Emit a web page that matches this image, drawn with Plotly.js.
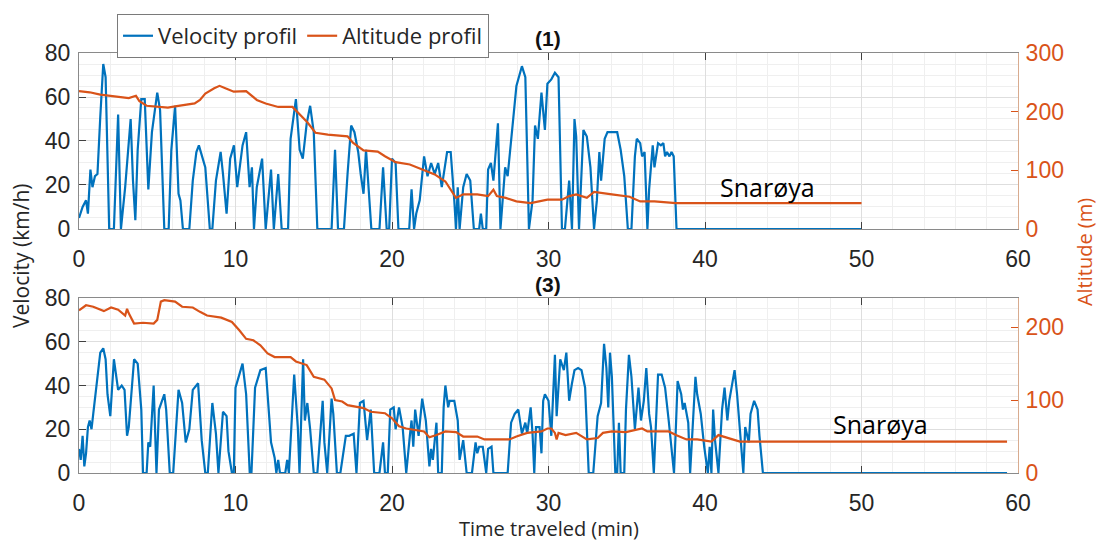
<!DOCTYPE html>
<html>
<head>
<meta charset="utf-8">
<script src="https://cdn.plot.ly/plotly-3.0.1.min.js"></script>
<style>
html,body{margin:0;padding:0;background:#fff;}
#chart{width:1098px;height:541px;}
</style>
</head>
<body>
<div id="chart"></div>
<script>
// ---------- Data ----------
// Plot (1): velocity profile
const topVelT = [0,0.23,0.45,0.57,0.73,0.86,1.02,1.18,1.36,1.55,1.7,1.93,2.23,2.5,2.68,2.95,3.3,3.45,3.6,3.75,3.98,4.2,4.43,4.66,5.0,5.18,5.45,5.73,5.9,6.14,6.36,6.48,6.64,7.05,7.27,7.5,7.66,7.84,8.07,8.36,8.52,8.75,9.05,9.2,9.43,9.66,9.9,10.11,10.45,10.68,10.9,11.05,11.18,11.36,11.7,11.93,12.1,12.27,12.45,12.73,12.95,13.36,13.52,13.86,14.1,14.3,14.55,14.77,15.0,15.23,16.14,16.36,16.55,16.93,17.16,17.39,17.6,17.84,18.0,18.18,18.34,18.52,18.68,19.2,19.43,19.66,19.82,20.0,20.23,20.41,21.1,21.25,21.41,21.55,21.77,22.05,22.27,22.5,22.73,22.95,23.18,23.52,23.75,23.98,24.09,24.2,24.32,24.55,24.77,25.0,25.23,25.57,25.68,25.8,26.02,26.14,26.32,26.48,26.59,26.77,26.93,27.09,27.23,27.39,27.73,27.95,28.3,28.52,28.75,28.98,29.14,29.32,29.55,29.77,29.93,30.18,30.41,30.64,30.86,31.05,31.32,31.5,31.66,31.77,31.95,32.07,32.23,32.45,32.68,32.91,33.09,33.25,33.36,33.59,33.77,34.05,34.39,34.61,34.84,35.07,35.3,35.52,35.64,35.86,35.98,36.14,36.32,36.43,36.66,36.77,37.0,37.18,37.34,37.45,37.57,37.73,37.86,38.0,38.09,38.18,50];
const topVelV = [5,10,13,7,27,19,24,25,51,75,69,0,0,52,0,19,50,22,4,36,59,59,18,44,62,54,0,0,36,56,16,13,0,0,22,35,38,34,28,0,0,22,35,25,7,32,38,19,38,44,19,28,0,19,32,0,13,27,0,25,0,0,41,59,36,32,48,56,44,0,0,36,0,0,25,47,44,35,25,16,36,19,0,0,28,0,0,32,30,0,0,18,0,7,13,33,24,30,25,30,19,35,35,13,0,19,0,19,25,22,0,0,7,0,0,27,30,22,33,48,0,13,28,24,51,65,74,69,0,13,47,41,62,45,66,68,71,69,0,0,22,0,50,42,0,19,45,42,28,0,13,35,22,41,44,44,44,36,24,0,0,33,41,39,33,35,0,18,38,28,39,38,39,33,35,33,35,33,19,0,0];
// Plot (1): altitude profile
const topAltT = [0,0.68,1.36,2.27,3.18,3.64,3.86,4.32,5.0,5.68,6.14,6.82,7.39,7.73,8.07,8.64,8.98,9.43,9.89,10.68,11.36,11.93,12.73,13.64,14.09,14.59,15.11,15.9,17.16,17.5,18.18,19.09,19.55,20.23,21.14,22.05,22.73,23.41,23.75,24.09,24.55,25.45,26.14,26.48,26.7,27.27,27.95,28.86,29.93,30.86,31.32,31.77,32.45,32.91,34.05,35.18,35.86,36.77,38.14,50];
const topAltA = [235,233,229,226,223,227,218,210,208,207,209,212,214,220,231,240,244,239,234,235,220,214,208,208,195,182,164,161,158,147,134,132,124,114,110,101,93,81,67,53,59,59,56,67,56,53,47,44,50,50,56,59,53,63,59,55,47,47,44,44];
// Plot (3): velocity profile
const botVelT = [0,0.11,0.23,0.34,0.45,0.57,0.68,0.8,0.91,1.14,1.36,1.55,1.7,1.82,2.0,2.23,2.32,2.5,2.73,2.91,3.07,3.18,3.52,3.75,3.98,4.09,4.32,4.43,4.55,4.77,4.95,5.11,5.45,5.57,5.8,6.02,6.36,6.59,6.82,7.05,7.27,7.61,7.84,8.07,8.23,8.52,8.75,8.91,9.2,9.43,9.55,9.77,9.89,10.0,10.45,10.68,10.91,11.02,11.25,11.59,11.93,12.27,12.5,12.61,12.73,12.84,13.18,13.3,13.41,13.75,13.98,14.09,14.32,14.43,14.59,14.77,15.0,15.23,15.57,15.68,15.86,16.14,16.25,16.48,16.7,17.05,17.27,17.55,17.73,17.95,18.18,18.41,18.64,18.86,19.2,19.43,19.55,19.73,19.89,20.11,20.23,20.45,20.68,20.91,21.14,21.25,21.36,21.48,21.7,21.93,22.16,22.27,22.39,22.5,22.61,22.84,22.95,23.18,23.3,23.41,23.59,23.68,23.98,24.2,24.32,24.55,24.66,24.77,25.11,25.34,25.45,25.57,25.8,25.91,26.02,26.14,26.36,26.48,27.39,27.61,27.84,28.07,28.3,28.52,28.64,28.86,28.98,29.09,29.2,29.43,29.55,29.66,29.77,30.0,30.18,30.41,30.52,30.75,30.98,31.14,31.32,31.5,31.66,31.89,32.11,32.34,32.57,32.86,33.14,33.36,33.55,33.7,33.82,33.93,34.05,34.27,34.39,34.5,34.61,34.84,34.95,35.14,35.3,35.52,35.75,35.91,36.09,36.25,36.43,36.55,36.73,36.82,37.0,37.23,37.45,37.68,38.02,38.14,38.25,38.48,38.59,38.7,38.93,39.05,39.23,39.39,39.5,39.73,39.95,40.18,40.3,40.41,40.52,40.64,40.86,41.09,41.25,41.43,41.55,41.89,42.05,42.23,42.45,42.57,42.8,42.91,43.14,43.36,43.48,43.7,59.3];
const botVelV = [11,6,17,3,9,21,24,20,27,41,55,57,52,36,26,52,47,38,40,38,17,21,52,50,29,0,0,14,12,40,0,29,36,29,0,0,38,32,14,20,38,41,15,0,0,32,18,0,28,26,10,0,0,39,50,36,0,0,39,47,48,14,7,0,6,0,0,6,0,45,21,0,52,24,32,20,0,0,33,14,0,34,27,0,0,17,17,18,0,32,33,15,29,0,0,14,0,0,29,30,20,30,21,0,17,24,12,29,17,34,24,12,3,11,6,23,0,0,30,40,30,33,33,24,6,15,6,0,0,14,9,12,12,6,0,11,12,0,0,23,27,29,18,23,18,30,18,0,21,21,9,33,36,33,17,54,26,52,47,55,33,41,47,48,47,39,0,0,26,32,59,48,30,55,44,0,0,23,0,0,29,54,44,20,39,24,33,48,27,21,0,15,45,45,39,24,0,21,42,36,29,32,23,0,27,44,36,27,12,0,12,0,29,15,0,29,39,24,33,47,36,21,0,21,14,27,33,29,17,0,0];
// Plot (3): altitude profile
const botAltT = [0,0.45,0.91,1.59,2.05,2.5,2.95,3.07,3.18,3.52,4.09,4.77,5.0,5.23,5.45,6.14,6.59,7.27,7.73,8.18,9.09,9.77,10.23,10.68,11.14,11.59,12.05,12.5,13.52,13.86,14.55,15.0,15.68,16.14,16.36,16.82,17.16,17.73,18.18,18.64,19.55,20.0,20.45,20.91,21.59,22.05,22.39,22.84,23.41,24.09,24.55,25.45,25.91,27.5,27.95,28.64,29.55,29.93,30.18,30.41,30.52,30.64,31.09,31.77,32.45,33.14,33.48,34.05,34.95,35.98,36.32,37.68,38.14,38.82,39.5,40.41,40.86,41.55,42.23,43.59,59.3];
const botAltA = [223,230,228,222,227,224,216,225,219,205,206,205,210,235,237,235,228,227,221,216,213,207,196,184,182,175,164,159,159,153,148,132,128,116,100,98,93,91,89,84,82,75,64,61,59,57,49,52,57,56,50,50,46,46,50,55,57,61,61,55,46,55,52,55,46,48,55,57,56,61,57,57,52,46,46,43,52,48,43,43,43];

const seriesNames = ["Velocity profil", "Altitude profil"];
const panelTitles = ["(1)", "(3)"];
const placeLabel = "Snarøya";
const placeTop = [44.0, 19];
const placeBot = [51.2, 22.4];
const xTickVals = [0,10,20,30,40,50,60];
const velTickVals = [0,20,40,60,80];
const altTickTop = [0,100,200,300];
const altTickBot = [0,100,200];

// ---------- Style ----------
const BLUE = '#0072BD', ORANGE = '#D95319';
const tickFont = {family: 'Liberation Sans, Arial, sans-serif', size: 23, color: '#262626'};
const axisLine = '#8a8a8a';
const gridMajor = '#dedede', gridMinor = '#efefef';

function xax(anchor) {
  return {
    domain: [0, 1], anchor: anchor, range: [0, 60], tickvals: xTickVals,
    ticks: 'inside', ticklen: 7, tickcolor: '#404040', tickwidth: 1,
    showline: true, linecolor: axisLine, linewidth: 1, mirror: 'ticks',
    showgrid: true, gridcolor: gridMajor, zeroline: false,
    minor: {dtick: 2, showgrid: true, gridcolor: gridMinor, ticks: ''},
    tickfont: tickFont, ticklabelstandoff: 9, fixedrange: true
  };
}
function yLeft(domain, anchor) {
  return {
    domain: domain, anchor: anchor, range: [0, 80], tickvals: velTickVals,
    ticks: 'inside', ticklen: 7, tickcolor: '#404040',
    showline: true, linecolor: axisLine, linewidth: 1,
    showgrid: true, gridcolor: gridMajor, zeroline: false,
    minor: {dtick: 5, showgrid: true, gridcolor: gridMinor, ticks: ''},
    tickfont: tickFont, ticklabelstandoff: 3, fixedrange: true
  };
}
function yRight(over, anchor, range, tv) {
  return {
    overlaying: over, anchor: anchor, side: 'right', range: range, tickvals: tv,
    ticks: 'inside', ticklen: 7, tickcolor: ORANGE,
    showline: true, linecolor: '#d8ab8f', linewidth: 1,
    showgrid: false, zeroline: false,
    tickfont: Object.assign({}, tickFont, {color: ORANGE}), ticklabelstandoff: 2, fixedrange: true
  };
}

const traces = [
  {x: topVelT, y: topVelV, xaxis: 'x', yaxis: 'y', type: 'scatter', mode: 'lines',
   name: seriesNames[0], line: {color: BLUE, width: 2.2}},
  {x: topAltT, y: topAltA, xaxis: 'x', yaxis: 'y2', type: 'scatter', mode: 'lines',
   name: seriesNames[1], line: {color: ORANGE, width: 2.2}},
  {x: botVelT, y: botVelV, xaxis: 'x2', yaxis: 'y3', type: 'scatter', mode: 'lines',
   name: seriesNames[0], showlegend: false, line: {color: BLUE, width: 2.2}},
  {x: botAltT, y: botAltA, xaxis: 'x2', yaxis: 'y4', type: 'scatter', mode: 'lines',
   name: seriesNames[1], showlegend: false, line: {color: ORANGE, width: 2.2}}
];

const titleFont = {family: 'Open Sans, Noto Sans, sans-serif', size: 21, color: '#262626'};
const layout = {
  width: 1098, height: 541,
  margin: {l: 79, r: 80, t: 53, b: 68},
  paper_bgcolor: '#fff', plot_bgcolor: '#fff',
  showlegend: true,
  legend: {
    orientation: 'h', x: 0.0405, y: 1.093, xanchor: 'left', yanchor: 'top',
    bordercolor: '#7a7a7a', borderwidth: 1, bgcolor: '#fff',
    font: {family: 'Open Sans, Noto Sans, sans-serif', size: 22, color: '#262626'},
    itemwidth: 30, tracegroupgap: 0
  },
  xaxis: xax('y'),
  yaxis: yLeft([0.581, 1], 'x'),
  yaxis2: yRight('y', 'x', [0, 300], altTickTop),
  xaxis2: xax('y3'),
  yaxis3: yLeft([0, 0.4167], 'x2'),
  yaxis4: yRight('y3', 'x2', [0, 240], altTickBot),
  annotations: [
    {text: '<b>' + panelTitles[0] + '</b>', xref: 'paper', yref: 'paper', x: 0.4995, y: 1.0357,
     xanchor: 'center', yanchor: 'middle', showarrow: false,
     font: {family: 'Liberation Sans, Arial, sans-serif', size: 21, color: '#111'}},
    {text: '<b>' + panelTitles[1] + '</b>', xref: 'paper', yref: 'paper', x: 0.4995, y: 0.45,
     xanchor: 'center', yanchor: 'middle', showarrow: false,
     font: {family: 'Liberation Sans, Arial, sans-serif', size: 21, color: '#111'}},
    {text: placeLabel, xref: 'x', yref: 'y', x: placeTop[0], y: placeTop[1], showarrow: false,
     xanchor: 'center', yanchor: 'middle',
     font: {family: 'Open Sans, Noto Sans, sans-serif', size: 25, color: '#000'}},
    {text: placeLabel, xref: 'x2', yref: 'y3', x: placeBot[0], y: placeBot[1], showarrow: false,
     xanchor: 'center', yanchor: 'middle',
     font: {family: 'Open Sans, Noto Sans, sans-serif', size: 25, color: '#000'}},
    {text: 'Velocity (km/h)', xref: 'paper', yref: 'paper', x: -0.0618, y: 0.519, textangle: -90,
     xanchor: 'center', yanchor: 'middle', showarrow: false, font: titleFont},
    {text: 'Altitude (m)', xref: 'paper', yref: 'paper', x: 1.0703, y: 0.526, textangle: -90,
     xanchor: 'center', yanchor: 'middle', showarrow: false,
     font: Object.assign({}, titleFont, {size: 20, color: ORANGE})},
    {text: 'Time traveled (min)', xref: 'paper', yref: 'paper', x: 0.5, y: -0.131,
     xanchor: 'center', yanchor: 'middle', showarrow: false, font: Object.assign({}, titleFont, {size: 20})}
  ]
};

Plotly.newPlot('chart', traces, layout, {staticPlot: true, displayModeBar: false});
</script>
</body>
</html>
